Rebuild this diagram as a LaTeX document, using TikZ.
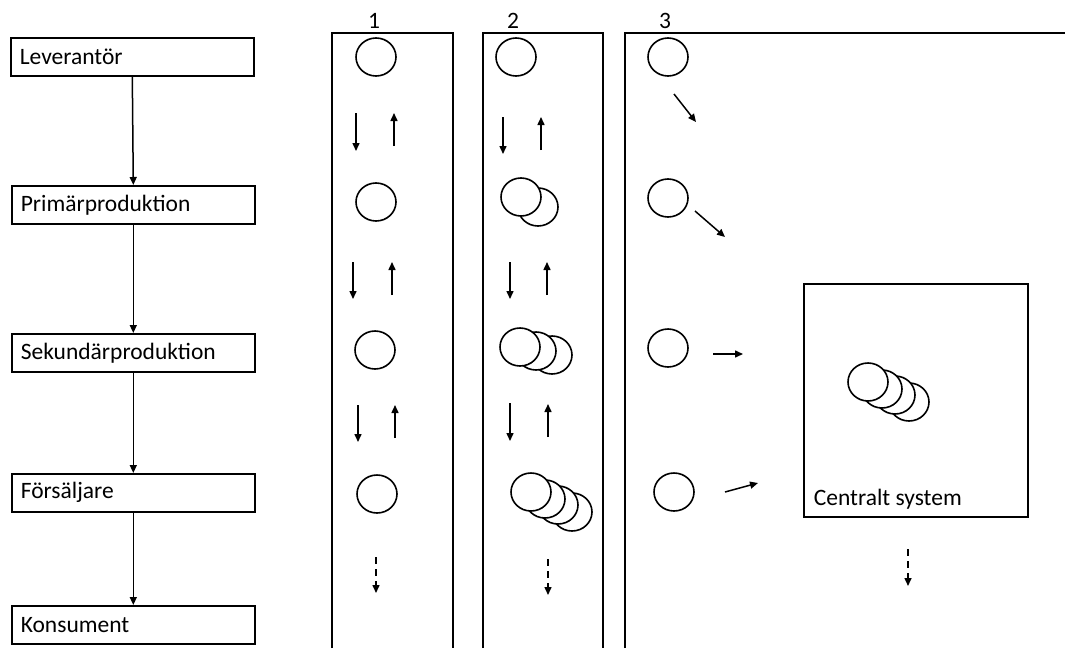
\documentclass[tikz,border=0pt]{standalone}
\usepackage{fontspec}
\setmainfont{Carlito}
\usetikzlibrary{arrows.meta,shapes.geometric}
\begin{document}
\begin{tikzpicture}[x=1pt,y=-1pt,
  line width=1.6pt,
  every node/.style={font=\fontsize{23.5}{28}\selectfont},
  stage/.style={draw,rectangle,minimum width=243pt,minimum height=38pt,
    text width=225pt,inner xsep=9pt,align=left,anchor=north west},
  item/.style={draw,fill=white,ellipse,minimum width=40pt,minimum height=38pt,inner sep=0pt},
  arr/.style={-{Triangle[length=8pt,width=7pt]},line width=1.5pt},
  darr/.style={arr,dash pattern=on 7pt off 5pt},
  colnum/.style={inner sep=0pt}]
\useasboundingbox (0,0) rectangle (1065,648);

% supply chain on the left
\node[stage] (lev)  at (10,37)  {Leverantör};
\node[stage] (prim) at (11,185) {Primärproduktion};
\node[stage] (sek)  at (11,333) {Sekundärproduktion};
\node[stage] (fors) at (11,473) {Försäljare};
\node[stage] (kons) at (11,605) {Konsument};
\draw[arr] (lev.south)  -- (prim.north);
\draw[arr] (prim.south) -- (sek.north);
\draw[arr] (sek.south)  -- (fors.north);
\draw[arr] (fors.south) -- (kons.north);

% column frames, open at the bottom
\draw (332,648) -- (332,33) -- (453,33) -- (453,648);
\draw (483,648) -- (483,33) -- (603,33) -- (603,648);
\draw (625,648) -- (625,33) -- (1065,33);
\node[colnum] (n1) at (374,21) {1};
\node[colnum] (n2) at (513,21) {2};
\node[colnum] (n3) at (665,21) {3};

% column 1: one record per step, passed both ways
\node[item] (a1) at (376,57)  {};
\node[item] (a2) at (376,202) {};
\node[item] (a3) at (375,350) {};
\node[item] (a4) at (377,494) {};
\coordinate (a1d0) at (356,113); \coordinate (a1d1) at (356,151);
\coordinate (a1u0) at (394,146); \coordinate (a1u1) at (394,113);
\coordinate (a2d0) at (353,262); \coordinate (a2d1) at (353,299);
\coordinate (a2u0) at (392,295); \coordinate (a2u1) at (392,262);
\coordinate (a3d0) at (358,405); \coordinate (a3d1) at (358,442);
\coordinate (a3u0) at (395,438); \coordinate (a3u1) at (395,405);
\coordinate (a4d0) at (376,557); \coordinate (a4d1) at (376,593);
\draw[arr] (a1d0) -- (a1d1); \draw[arr] (a1u0) -- (a1u1);
\draw[arr] (a2d0) -- (a2d1); \draw[arr] (a2u0) -- (a2u1);
\draw[arr] (a3d0) -- (a3d1); \draw[arr] (a3u0) -- (a3u1);
\draw[darr] (a4d0) -- (a4d1);

% column 2: records accumulate along the chain
\node[item] (b1) at (516,57) {};
\node[item] (b2b) at (538,207) {};
\node[item] (b2a) at (521,197) {};
\node[item] (b3c) at (552,355) {};
\node[item] (b3b) at (536,351) {};
\node[item] (b3a) at (520,347) {};
\node[item] (b4d) at (572,512) {};
\node[item] (b4c) at (558,505) {};
\node[item] (b4b) at (545,499) {};
\node[item] (b4a) at (531,492) {};
\coordinate (b1d0) at (503,117); \coordinate (b1d1) at (503,154);
\coordinate (b1u0) at (541,150); \coordinate (b1u1) at (541,117);
\coordinate (b2d0) at (510,262); \coordinate (b2d1) at (510,299);
\coordinate (b2u0) at (547,295); \coordinate (b2u1) at (547,262);
\coordinate (b3d0) at (510,403); \coordinate (b3d1) at (510,441);
\coordinate (b3u0) at (548,437); \coordinate (b3u1) at (548,404);
\coordinate (b4d0) at (548,559); \coordinate (b4d1) at (548,595);
\draw[arr] (b1d0) -- (b1d1); \draw[arr] (b1u0) -- (b1u1);
\draw[arr] (b2d0) -- (b2d1); \draw[arr] (b2u0) -- (b2u1);
\draw[arr] (b3d0) -- (b3d1); \draw[arr] (b3u0) -- (b3u1);
\draw[darr] (b4d0) -- (b4d1);

% column 3: every step reports to a central system
\node[item] (c1) at (668,57)  {};
\node[item] (c2) at (668,198) {};
\node[item] (c3) at (668,348) {};
\node[item] (c4) at (674,492) {};
\node[draw,rectangle,minimum width=224pt,minimum height=233pt,anchor=north west] (cs) at (803,283) {};
\node[anchor=base west,inner sep=0pt] (cslabel) at (813,505) {Centralt system};
\node[item] (s4) at (909,402) {};
\node[item] (s3) at (895,395) {};
\node[item] (s2) at (882,389) {};
\node[item] (s1) at (868,382) {};
\coordinate (c1a) at (674,94);  \coordinate (c1b) at (696,122);
\coordinate (c2a) at (695,211); \coordinate (c2b) at (725,237);
\coordinate (c3a) at (713,354); \coordinate (c3b) at (743,354);
\coordinate (c4a) at (725,492); \coordinate (c4b) at (758,483);
\coordinate (c5a) at (908,549); \coordinate (c5b) at (908,586);
\draw[arr] (c1a) -- (c1b);
\draw[arr] (c2a) -- (c2b);
\draw[arr] (c3a) -- (c3b);
\draw[arr] (c4a) -- (c4b);
\draw[darr] (c5a) -- (c5b);
\end{tikzpicture}
\end{document}
